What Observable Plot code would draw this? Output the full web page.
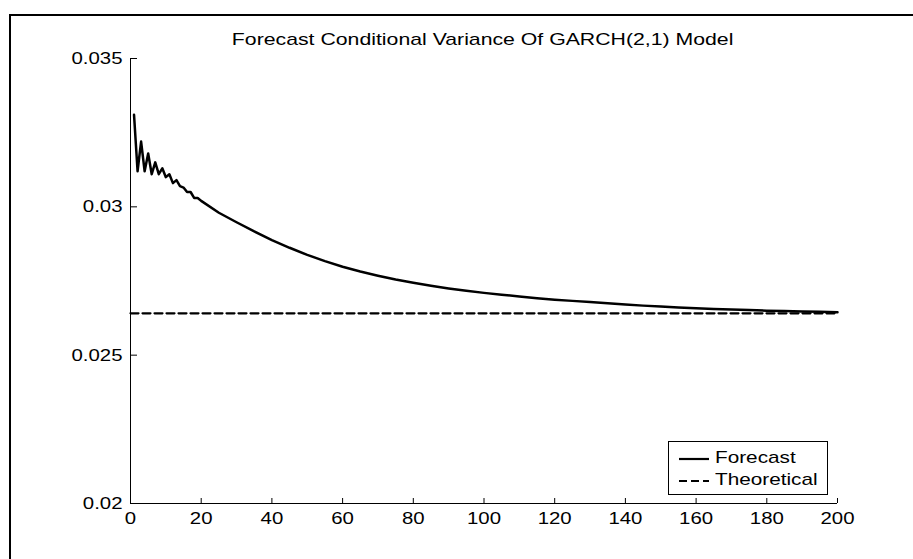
<!DOCTYPE html>
<html>
<head>
<meta charset="utf-8">
<script src="https://cdn.jsdelivr.net/npm/d3@7"></script>
<script src="https://cdn.jsdelivr.net/npm/@observablehq/plot@0.6"></script>
<style>
  html, body { margin: 0; padding: 0; background: #fff; overflow: hidden; }
  #wrap { position: relative; width: 913px; height: 559px; font-family: "Liberation Sans", Arial, sans-serif; }
  #frame { position: absolute; left: 9px; top: 14px; width: 1000px; height: 700px; border: 2px solid #000; box-sizing: border-box; }
  #title { position: absolute; left: 0; width: 966px; top: 30px; text-align: center; font-size: 17px; color: #000; white-space: nowrap; }
  #title span { display: inline-block; transform: scaleX(1.25); transform-origin: center; }
  #chart { position: absolute; left: 0; top: 0; }
  #legend { position: absolute; left: 668px; top: 441px; width: 160px; height: 54px; border: 1px solid #000; box-sizing: border-box; background: #fff; }
  .row { position: absolute; left: 0; height: 20px; width: 100%; }
  .row svg { position: absolute; left: 8px; top: 0; }
  .row span { position: absolute; left: 46px; top: 0px; font-size: 17px; transform: scaleX(1.22); transform-origin: left; white-space: nowrap; }
</style>
</head>
<body>
<div id="wrap">
  <div id="frame"></div>
  <div id="chart"></div>
  <div id="title"><span>Forecast Conditional Variance Of GARCH(2,1) Model</span></div>
  <div id="legend"></div>
</div>
<script>
// ---- data ----
const steps = [1,2,3,4,5,6,7,8,9,10,11,12,13,14,15,16,17,18,19,20,
  25,30,35,40,45,50,55,60,65,70,75,80,85,90,95,100,105,110,115,120,125,130,135,140,145,150,155,160,165,170,175,180,185,190,195,200];
const forecast = [0.0331,0.0312,0.0322,0.0312,0.0318,0.0311,0.0315,0.0311,0.0313,0.0310,0.0311,0.0308,0.0309,0.0307,0.03065,0.0305,0.0305,0.0303,0.0303,0.0302,
  0.02980,0.02948,0.02917,0.02888,0.02862,0.02838,0.02817,0.02798,0.02782,0.02768,0.02755,0.02744,0.02734,0.02725,0.02717,0.02710,0.02704,0.02698,0.02692,0.02687,
  0.02683,0.02679,0.02675,0.02671,0.02667,0.02664,0.02661,0.02658,0.02656,0.02654,0.02652,0.02650,0.02649,0.02647,0.02646,0.02645];
const theoretical = 0.02641;
const theoreticalRange = [0, 200];
const xTicks = [0,20,40,60,80,100,120,140,160,180,200];
const yTicks = [0.02,0.025,0.03,0.035];
const yTickLabels = ["0.02","0.025","0.03","0.035"];
const seriesNames = ["Forecast","Theoretical"];

const fcData = steps.map((s,i) => ({x: s, y: forecast[i]}));
const thData = theoreticalRange.map(x => ({x, y: theoretical}));

const plot = Plot.plot({
  width: 913,
  height: 559,
  marginLeft: 130,
  marginRight: 76,
  marginTop: 58,
  marginBottom: 56,
  style: {fontFamily: "'Liberation Sans', Arial, sans-serif", fontSize: "17px", color: "#000", background: "transparent", overflow: "visible"},
  x: {domain: [0,200]},
  y: {domain: [0.02,0.035]},
  marks: [
    Plot.ruleX([0], {stroke: "#000", strokeWidth: 1}),
    Plot.ruleY([0.02], {stroke: "#000", strokeWidth: 1}),
    Plot.axisX(xTicks, {anchor: "bottom", tickSize: -5, fill: "none", label: null}),
    Plot.axisX(xTicks, {anchor: "bottom", tickSize: 0, tickPadding: 8, label: null, tickFormat: d => String(d)}),
    Plot.axisY(yTicks, {anchor: "left", tickSize: -7, fill: "none", label: null}),
    Plot.axisY(yTicks, {anchor: "left", tickSize: 0, tickPadding: 8, label: null, tickFormat: (d,i) => yTickLabels[i]}),
    Plot.line(thData, {x: "x", y: "y", stroke: "#000", strokeWidth: 2.2, strokeDasharray: "8,4"}),
    Plot.line(fcData, {x: "x", y: "y", stroke: "#000", strokeWidth: 2.5})
  ]
});
document.getElementById("chart").appendChild(plot);

// widen tick label glyphs like the reference rendering
d3.select(plot).selectAll("g[aria-label$='tick label'] text").each(function() {
  const t = d3.select(this).attr("transform") || "";
  d3.select(this).attr("transform", t + " scale(1.2,1)");
});

// legend
const legend = document.getElementById("legend");
seriesNames.forEach((name, i) => {
  const row = document.createElement("div");
  row.className = "row";
  row.style.top = (6 + i*22) + "px";
  const svg = d3.create("svg").attr("width", 34).attr("height", 20);
  svg.append("line").attr("x1", 2).attr("x2", 32).attr("y1", 11).attr("y2", 11)
    .attr("stroke", "#000").attr("stroke-width", 2.2)
    .attr("stroke-dasharray", i === 1 ? "8,4" : null);
  row.appendChild(svg.node());
  const sp = document.createElement("span");
  sp.textContent = name;
  row.appendChild(sp);
  legend.appendChild(row);
});
</script>
</body>
</html>
